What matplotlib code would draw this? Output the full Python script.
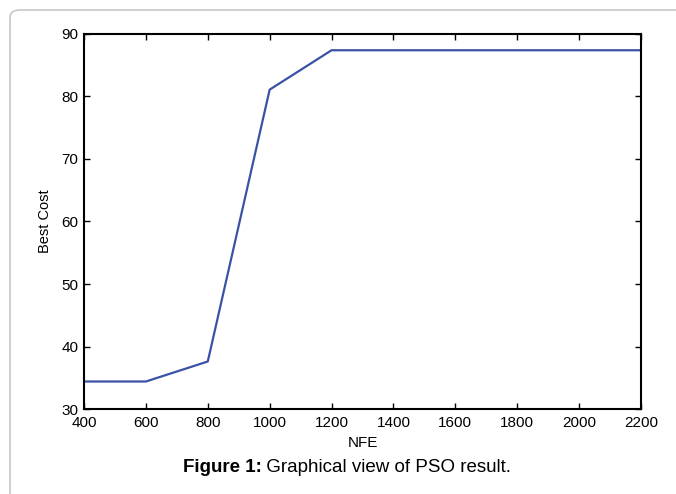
import matplotlib
matplotlib.use("Agg")
import matplotlib.pyplot as plt
from matplotlib.patches import FancyBboxPatch

plt.rcParams['font.family'] = ['Liberation Sans', 'DejaVu Sans']

nfe = [400, 600, 800, 1000, 1200, 1400, 1600, 1800, 2000, 2200]
best_cost = [34.4, 34.4, 37.6, 81.1, 87.4, 87.4, 87.4, 87.4, 87.4, 87.4]
x_ticks = [400, 600, 800, 1000, 1200, 1400, 1600, 1800, 2000, 2200]
y_ticks = [30, 40, 50, 60, 70, 80, 90]

fig = plt.figure(figsize=(6.76, 4.94), dpi=100)

# panel border (runs off the right and bottom edges)
border = FancyBboxPatch((10 / 676, -0.2), 1.2, 1 - 10 / 494 + 0.2,
                        boxstyle="round,pad=0,rounding_size=0.015",
                        transform=fig.transFigure, fill=False,
                        edgecolor="#c8c8c8", linewidth=1.2, clip_on=False)
fig.patches.append(border)

ax = fig.add_axes([84 / 676, 1 - 409 / 494, (641 - 84) / 676, (409 - 34) / 494])
ax.plot(nfe, best_cost, color="#3a52a6", linewidth=1.6)

ax.set_xlim(400, 2200)
ax.set_ylim(30, 90)
ax.set_xticks(x_ticks)
ax.set_yticks(y_ticks)
ax.tick_params(direction="in", length=4, width=1, top=True, right=True,
               labelsize=11, colors="black")
ax.tick_params(axis="x", pad=5)
ax.tick_params(axis="y", pad=4)
for s in ax.spines.values():
    s.set_linewidth(1.5)

ax.set_xlabel("NFE", fontsize=11, labelpad=4)
ax.set_ylabel("Best Cost", fontsize=10.5, labelpad=7)

# caption: bold "Figure 1:" followed by regular text, centred as a whole
cy = 1 - 467 / 494
t1 = fig.text(0, cy, "Figure 1:", fontsize=13.5, fontweight="bold",
              ha="left", va="center")
t2 = fig.text(0, cy, " Graphical view of PSO result.", fontsize=13.5,
              ha="left", va="center")
fig.canvas.draw()
r = fig.canvas.get_renderer()
w1 = t1.get_window_extent(r).width / fig.bbox.width
w2 = t2.get_window_extent(r).width / fig.bbox.width
x0 = 347 / 676 - (w1 + w2) / 2
t1.set_x(x0)
t2.set_x(x0 + w1)

fig.savefig("out.png", dpi=100)
